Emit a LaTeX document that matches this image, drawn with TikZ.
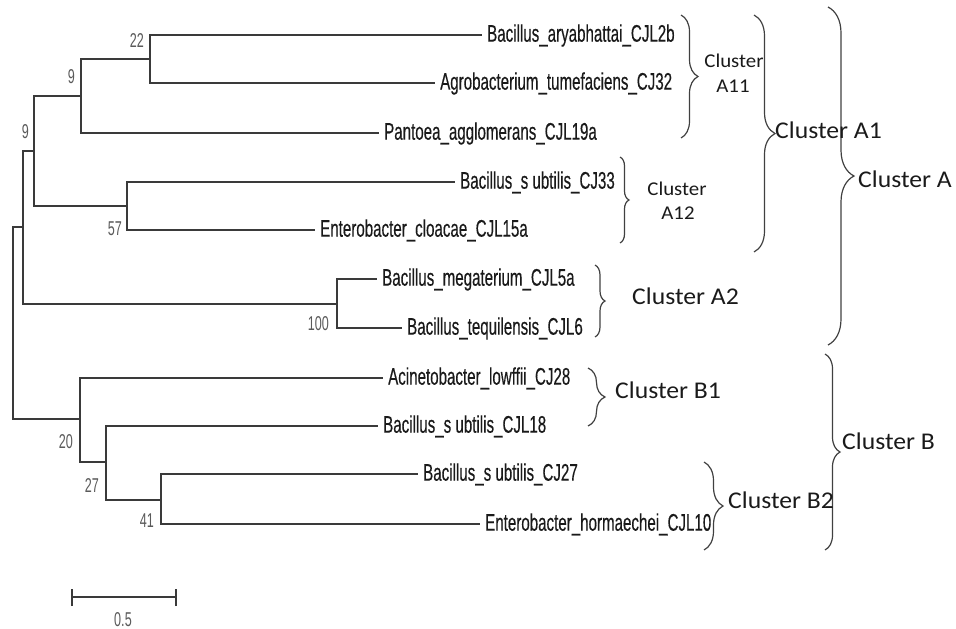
\documentclass[tikz,border=0pt]{standalone}
\usepackage{fontspec}
\usetikzlibrary{decorations.pathreplacing}
\newfontfamily\leaffont[FakeStretch=0.63,FakeBold=0.35]{Liberation Sans}
\newfontfamily\bootfont[FakeStretch=0.63]{Liberation Sans}
\newfontfamily\clfont[FakeStretch=1.07]{Carlito}
\definecolor{treeline}{HTML}{3A3A3A}
\definecolor{bootgray}{HTML}{5A5A5A}
\definecolor{bracegray}{HTML}{404040}
\definecolor{labeltext}{HTML}{1A1A1A}
\begin{document}
\begin{tikzpicture}[x=1pt,y=-1pt,
  edge/.style={draw=treeline,line width=1.3pt},
  leaf/.style={font=\leaffont\fontsize{24}{24}\selectfont, text=labeltext, anchor=west, inner xsep=5pt, inner ysep=0pt, text height=13.4pt, text depth=0pt},
  boot/.style={font=\bootfont\fontsize{20}{20}\selectfont, text=bootgray, anchor=base east, inner sep=0pt},
  clbrace/.style={draw=bracegray, line width=1.2pt, decorate, decoration={brace, amplitude=#1}},
  cl/.style={font=\clfont\fontsize{24}{24}\selectfont, text=labeltext, anchor=base west, inner sep=0pt},
  clsmall/.style={font=\clfont\fontsize{19.5}{19.5}\selectfont, text=labeltext, anchor=base, inner sep=0pt},
]
\useasboundingbox (0,0) rectangle (956,629);
% internal nodes
\coordinate (root) at (13,323);
\coordinate (nA) at (23,227);
\coordinate (nA1) at (34,151);
\coordinate (n9u) at (81,96);
\coordinate (n22) at (150,59);
\coordinate (n57) at (127,206);
\coordinate (n100) at (337,304);
\coordinate (nB) at (80,419);
\coordinate (n27) at (106,462);
\coordinate (n41) at (161,500);
% leaves
\node[leaf] (l1) at (482,35) {Bacillus\_aryabhattai\_CJL2b};
\node[leaf] (l2) at (435,83) {Agrobacterium\_tumefaciens\_CJ32};
\node[leaf] (l3) at (379,133) {Pantoea\_agglomerans\_CJL19a};
\node[leaf] (l4) at (455,182) {Bacillus\_s ubtilis\_CJ33};
\node[leaf] (l5) at (315,230) {Enterobacter\_cloacae\_CJL15a};
\node[leaf] (l6) at (377,279) {Bacillus\_megaterium\_CJL5a};
\node[leaf] (l7) at (402,328) {Bacillus\_tequilensis\_CJL6};
\node[leaf] (l8) at (383,378) {Acinetobacter\_lowffii\_CJ28};
\node[leaf] (l9) at (378,426) {Bacillus\_s ubtilis\_CJL18};
\node[leaf] (l10) at (418,474) {Bacillus\_s ubtilis\_CJ27};
\node[leaf] (l11) at (480,524) {Enterobacter\_hormaechei\_CJL10};
% edges
\path[edge] (root) |- (nA);
\path[edge] (root) |- (nB);
\path[edge] (nA) |- (nA1);
\path[edge] (nA) |- (n100);
\path[edge] (nA1) |- (n9u);
\path[edge] (nA1) |- (n57);
\path[edge] (n9u) |- (n22);
\path[edge] (n9u) |- (l3.west);
\path[edge] (n22) |- (l1.west);
\path[edge] (n22) |- (l2.west);
\path[edge] (n57) |- (l4.west);
\path[edge] (n57) |- (l5.west);
\path[edge] (n100) |- (l6.west);
\path[edge] (n100) |- (l7.west);
\path[edge] (nB) |- (l8.west);
\path[edge] (nB) |- (n27);
\path[edge] (n27) |- (l9.west);
\path[edge] (n27) |- (n41);
\path[edge] (n41) |- (l10.west);
\path[edge] (n41) |- (l11.west);
% bootstrap values
\node[boot] (b22) at (144,47) {22};
\node[boot] (b9u) at (75,83) {9};
\node[boot] (b9l) at (29,138) {9};
\node[boot] (b57) at (122,235) {57};
\node[boot] (b100) at (329,330) {100};
\node[boot] (b20) at (73,448) {20};
\node[boot] (b27) at (99,492) {27};
\node[boot] (b41) at (154,527) {41};
% scale bar
\coordinate (sbL) at (72,597);
\coordinate (sbR) at (176,597);
\path[edge] (sbL) -- (sbR);
\path[edge] ([yshift=-9pt]sbL) -- ([yshift=8pt]sbL);
\path[edge] ([yshift=-9pt]sbR) -- ([yshift=8pt]sbR);
\node[boot, anchor=base] (sbt) at (123,626) {0.5};
% braces
\path[clbrace=17pt] (681,15) -- (681,138);
\path[clbrace=9pt] (620,157) -- (620,243);
\path[clbrace=21pt] (754,15) -- (754,252);
\path[clbrace=26pt] (828,7) -- (828,345);
\path[clbrace=10pt] (595,265) -- (595,337);
\path[clbrace=17pt] (588,368) -- (588,426);
\path[clbrace=15pt] (825,354) -- (825,550);
\path[clbrace=19pt] (704,462) -- (704,550);
% cluster labels
\node[clsmall] (cA11a) at (734,67) {Cluster};
\node[clsmall] (cA11b) at (733,92) {A11};
\node[clsmall] (cA12a) at (677,195) {Cluster};
\node[clsmall] (cA12b) at (678,219) {A12};
\node[cl] (cA1) at (775,138) {Cluster A1};
\node[cl] (cA) at (858,187) {Cluster A};
\node[cl] (cA2) at (632,304) {Cluster A2};
\node[cl] (cB1) at (615,398) {Cluster B1};
\node[cl] (cB) at (842,449) {Cluster B};
\node[cl] (cB2) at (728,508) {Cluster B2};
\end{tikzpicture}
\end{document}
